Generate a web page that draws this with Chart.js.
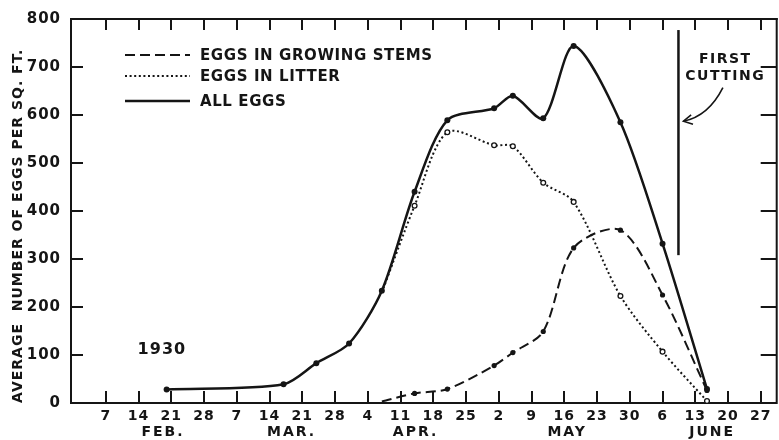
<!DOCTYPE html>
<html><head><meta charset="utf-8">
<script src="https://cdn.jsdelivr.net/npm/chart.js@4.4.0/dist/chart.umd.min.js"></script>
<style>
html,body{margin:0;padding:0;background:#fff;overflow:hidden;}
#wrap{position:relative;width:782px;height:440px;}
</style></head><body>
<div id="wrap"><canvas id="c"></canvas></div>
<script>
// ---- data (x = day of year 1930) ----
const sampleDays = [51, 76, 83, 90, 97, 104, 111, 121, 125, 131.5, 138, 148, 157, 166.5];
const allEggs    = [28, 39, 83, 124, 234, 440, 589, 614, 640, 593, 744, 585, 332, 29];
const litterEggs = [null, null, null, null, 230, 411, 564, 537, 535, 459, 419, 223, 107, 4];
const stemEggs   = [null, null, null, null, 3, 20, 29, 78, 105, 149, 323, 360, 225, 26];
const seriesNames = ['EGGS IN GROWING STEMS', 'EGGS IN LITTER', 'ALL EGGS'];
const tickDays   = [38, 45, 52, 59, 66, 73, 80, 87, 94, 101, 108, 115, 122, 129, 136, 143, 150, 157, 164, 171, 178];
const tickLabels = ['7','14','21','28','7','14','21','28','4','11','18','25','2','9','16','23','30','6','13','20','27'];
const monthLabels = ['FEB.', 'MAR.', 'APR.', 'MAY', 'JUNE'];
const monthCenterDays = [50, 77.5, 104, 136.4, 167.4];
const yTicks = [0, 100, 200, 300, 400, 500, 600, 700, 800];
const yTitle = 'AVERAGE  NUMBER OF EGGS PER SQ. FT.';
const cuttingDay = 160.4;
const cuttingSpan = [308, 777];
const cuttingText = ['FIRST', 'CUTTING'];
const yearText = '1930';

const INK = '#151515';
const FONT = '"DejaVu Sans", sans-serif';

function pts(arr){ return sampleDays.map((d,i)=>({x:d, y:arr[i]})); }
function radii(arr, r){ return arr.map((v,i)=> (v===null || (i>0 && arr[i-1]===null)) ? 0 : r); }

const decor = {
  id: 'decor',
  beforeDraw(chart){ chart.ctx.letterSpacing = '1px'; },
  afterDraw(chart){
    const {ctx, chartArea:a, scales:{x, y}} = chart;
    ctx.save();
    ctx.setLineDash([]);
    ctx.strokeStyle = INK; ctx.fillStyle = INK;
    // top & right frame
    ctx.fillRect(a.left - 1, a.top - 1, a.right - a.left + 2, 2);
    ctx.fillRect(a.right - 1, a.top - 1, 2, a.bottom - a.top + 2);
    // inward ticks
    for (let i = 0; i < tickDays.length; i++) {
      const px = Math.round(x.getPixelForValue(tickDays[i]));
      ctx.fillRect(px - 1, a.bottom - 12, 2, 12);
      ctx.fillRect(px - 1, a.top, 2, 11);
    }
    for (let i = 0; i < yTicks.length; i++) {
      const py = Math.round(y.getPixelForValue(yTicks[i]));
      ctx.fillRect(a.left, py - 1, 12, 2);
      ctx.fillRect(a.right - 16, py - 1, 16, 2);
    }
    // month labels
    ctx.font = 'bold 14px ' + FONT;
    ctx.letterSpacing = '2px';
    ctx.textAlign = 'center'; ctx.textBaseline = 'middle';
    monthLabels.forEach((m,i)=> ctx.fillText(m, x.getPixelForValue(monthCenterDays[i]) + 1, a.bottom + 29));
    // first cutting line
    const cx = x.getPixelForValue(cuttingDay);
    ctx.lineWidth = 2.5;
    ctx.beginPath();
    ctx.moveTo(cx, y.getPixelForValue(cuttingSpan[1]));
    ctx.lineTo(cx, y.getPixelForValue(cuttingSpan[0]));
    ctx.stroke();
    // annotation text
    ctx.font = 'bold 14px ' + FONT;
    ctx.letterSpacing = '1.5px';
    const tx = x.getPixelForValue(170.2);
    ctx.fillText(cuttingText[0], tx + 1, y.getPixelForValue(715));
    ctx.fillText(cuttingText[1], tx + 1, y.getPixelForValue(680));
    // arrow
    const sx = x.getPixelForValue(169.9), sy = y.getPixelForValue(657);
    const ex = cx + 5, ey = y.getPixelForValue(587);
    const qx = ex + 25, qy = ey - 5;
    ctx.lineWidth = 1.6;
    ctx.beginPath(); ctx.moveTo(sx, sy); ctx.quadraticCurveTo(qx, qy, ex, ey); ctx.stroke();
    const ang = Math.atan2(ey - qy, ex - qx);
    ctx.beginPath();
    ctx.moveTo(ex + 10*Math.cos(ang + Math.PI - 0.5), ey + 10*Math.sin(ang + Math.PI - 0.5));
    ctx.lineTo(ex, ey);
    ctx.lineTo(ex + 10*Math.cos(ang + Math.PI + 0.5), ey + 10*Math.sin(ang + Math.PI + 0.5));
    ctx.stroke();
    // year
    ctx.font = 'bold 16px ' + FONT;
    ctx.letterSpacing = '1px';
    ctx.textAlign = 'left';
    ctx.fillText(yearText, x.getPixelForValue(44.8), y.getPixelForValue(110));
    // legend
    ctx.font = 'bold 15px ' + FONT;
    ctx.letterSpacing = '0.6px';
    const rows = [a.top + 36, a.top + 57, a.top + 82];
    const l0 = a.left + 54, l1 = a.left + 119;
    [2, 1, 0].forEach((di, r)=>{
      const ds = chart.data.datasets[di];
      ctx.save();
      ctx.lineWidth = ds.borderWidth;
      ctx.setLineDash(ds.borderDash || []);
      ctx.beginPath(); ctx.moveTo(l0, rows[r]); ctx.lineTo(l1, rows[r]); ctx.stroke();
      ctx.restore();
      ctx.fillText(seriesNames[r], a.left + 129, rows[r] + 1);
    });
    ctx.restore();
  }
};

new Chart(document.getElementById('c'), {
  type: 'line',
  data: {
    datasets: [
      { label: seriesNames[2], data: pts(allEggs), borderColor: INK, backgroundColor: INK,
        borderWidth: 2.5, tension: 0.28, pointRadius: 3, pointBackgroundColor: INK, pointBorderWidth: 0 },
      { label: seriesNames[1], data: pts(litterEggs), borderColor: INK, backgroundColor: '#fff',
        borderWidth: 2, borderDash: [2, 2.6], tension: 0.3, pointRadius: radii(litterEggs, 2.4),
        pointBackgroundColor: '#fff', pointBorderColor: INK, pointBorderWidth: 1.3 },
      { label: seriesNames[0], data: pts(stemEggs), borderColor: INK, backgroundColor: INK,
        borderWidth: 2, borderDash: [10, 5], tension: 0.3, pointRadius: radii(stemEggs, 2.6),
        pointBackgroundColor: INK, pointBorderWidth: 0 }
    ]
  },
  options: {
    animation: false, responsive: true, maintainAspectRatio: false,
    layout: { padding: { top: 16, right: 1, left: 0, bottom: 0 } },
    plugins: { legend: { display: false }, tooltip: { enabled: false } },
    scales: {
      x: {
        type: 'linear', min: 30.56, max: 181.4,
        afterBuildTicks: s => { s.ticks = tickDays.map(v=>({value: v})); },
        afterFit: s => { s.height = 37; },
        grid: { display: false, drawTicks: false },
        border: { display: true, color: INK, width: 2 },
        ticks: { autoSkip: false, maxRotation: 0, padding: 5, color: INK,
          font: { family: FONT, weight: 'bold', size: 14 },
          callback: v => tickLabels[tickDays.indexOf(v)] }
      },
      y: {
        min: 0, max: 800,
        afterBuildTicks: s => { s.ticks = yTicks.map(v=>({value: v})); },
        afterFit: s => { s.width = 71; },
        grid: { display: false, drawTicks: false },
        border: { display: true, color: INK, width: 2 },
        ticks: { padding: 10, color: INK, font: { family: FONT, weight: 'bold', size: 15 } },
        title: { display: true, text: yTitle, align: 'start', color: INK,
          font: { family: FONT, weight: 'bold', size: 14 }, padding: { top: 10, bottom: 0 } }
      }
    }
  },
  plugins: [decor]
});
</script>
</body></html>
